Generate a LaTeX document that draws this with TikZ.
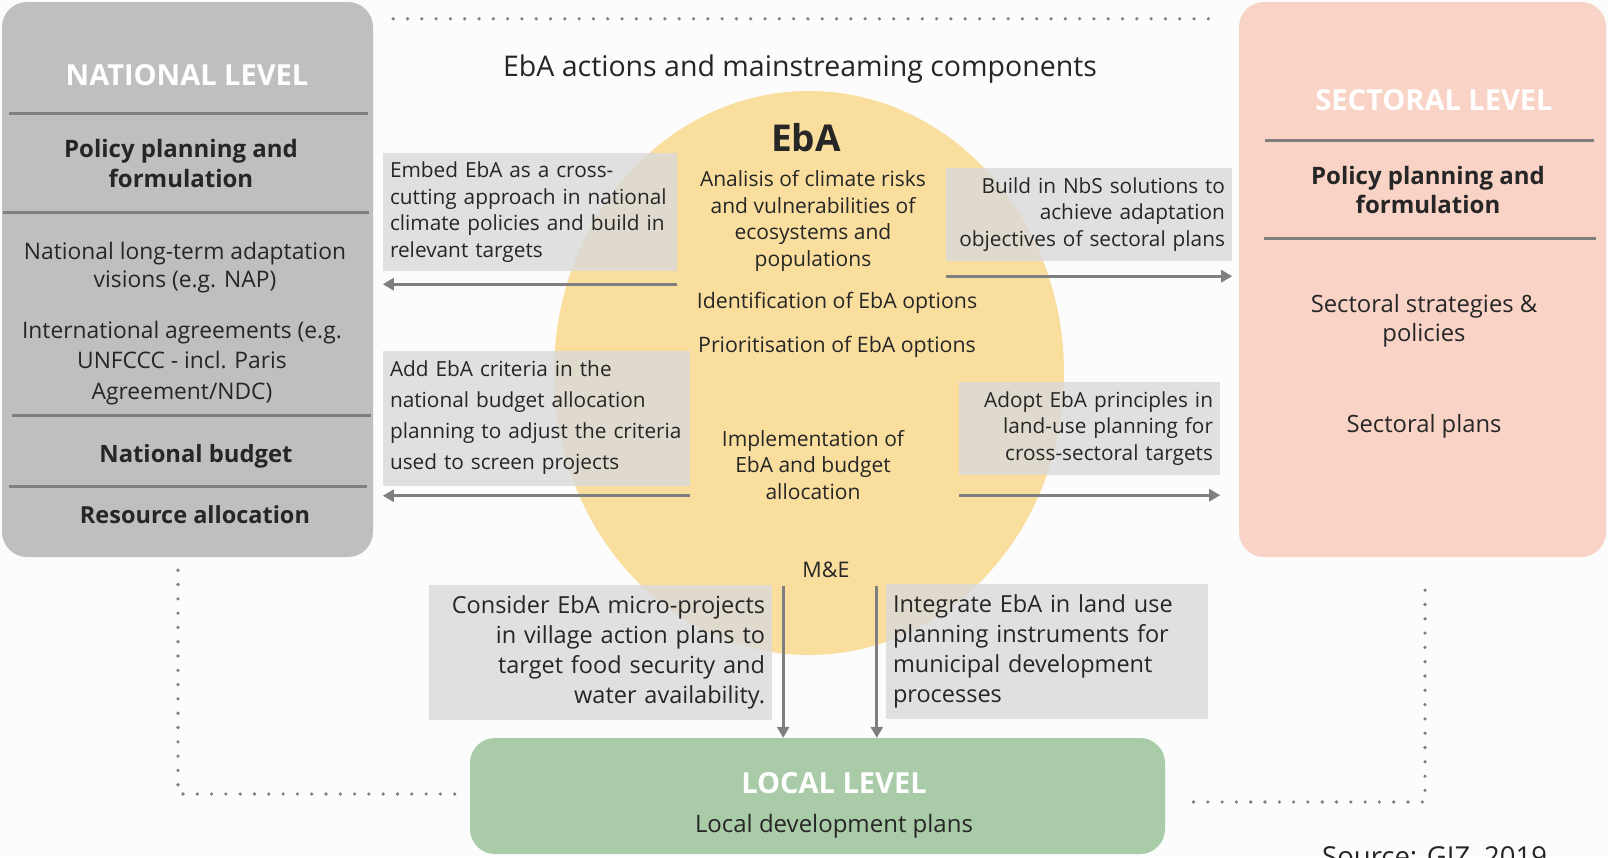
\documentclass[tikz,border=0pt]{standalone}
\usepackage{fontspec}
\setmainfont{Open Sans}
\usetikzlibrary{arrows.meta,positioning,shapes.geometric}

\definecolor{natgray}{HTML}{BFBFBF}
\definecolor{secpeach}{HTML}{F8D3C6}
\definecolor{locgreen}{HTML}{A9CBA8}
\definecolor{ebayellow}{HTML}{F9DE9E}
\definecolor{notegray}{HTML}{D9D9D9}
\definecolor{linegray}{HTML}{7F7F7F}
\definecolor{textdark}{HTML}{262626}

\tikzset{
  levelbox/.style={rounded corners=25pt, inner sep=0pt},
  note/.style={fill=notegray, fill opacity=0.8, text opacity=1, text=textdark,
    inner xsep=7pt, inner ysep=0pt, font=\fontsize{20.8}{26.5}\selectfont},
  txt/.style={text=textdark, align=center, inner sep=0pt},
  head/.style={text=white, inner sep=0pt, font=\fontsize{29}{32}\selectfont\bfseries},
  flow/.style={draw=linegray, line width=3.3pt, -{Triangle[length=11pt,width=12pt]}},
  sepline/.style={draw=linegray, line width=3pt},
  dots/.style={draw=linegray, line width=3.6pt, line cap=round, dash pattern=on 0pt off 14.3pt},
}

\begin{document}
\begin{tikzpicture}[x=1pt,y=-1pt]
\useasboundingbox (0,0) rectangle (1608,857);
\fill[white!99!black] (0,0) rectangle (1608,857);

% the three levels
\node[levelbox, fill=natgray, minimum width=371pt, minimum height=555pt] (national) at (187.5,279.5) {};
\node[levelbox, fill=secpeach, minimum width=367pt, minimum height=555pt] (sectoral) at (1422.5,279.5) {};
\node[levelbox, fill=locgreen, minimum width=695pt, minimum height=116pt] (local) at (817.5,796) {};

% EbA circle
\node[ellipse, fill=ebayellow, minimum width=510pt, minimum height=564pt, inner sep=0pt] (eba) at (809,373) {};

% national level
\node[head] (natTitle) at (187,75) {NATIONAL LEVEL};
\draw[sepline] (9,113) -- (368,113);
\node[txt, font=\fontsize{24}{30}\selectfont\bfseries] (natPolicy) at (181,163) {Policy planning and\\formulation};
\draw[sepline] (3,212) -- (369,212);
\node[txt, font=\fontsize{22.8}{28}\selectfont] (natVision) at (185,268) {National long-term adaptation\\visions (e.g. NAP)};
\node[txt, font=\fontsize{22.8}{30.5}\selectfont] (natAgree) at (182,363) {International agreements (e.g.\\UNFCCC - incl. Paris\\Agreement/NDC)};
\draw[sepline] (12,415) -- (371,415);
\node[txt, font=\fontsize{23.8}{30}\selectfont\bfseries] (natBudget) at (196,456) {National budget};
\draw[sepline] (9,486) -- (367,486);
\node[txt, font=\fontsize{23.5}{30}\selectfont\bfseries] (natRes) at (195,515) {Resource allocation};

% sectoral level
\node[head] (secTitle) at (1434,100) {SECTORAL LEVEL};
\draw[sepline] (1265,140) -- (1594,140);
\node[txt, font=\fontsize{24}{29}\selectfont\bfseries] (secPolicy) at (1428,190) {Policy planning and\\formulation};
\draw[sepline] (1264,238) -- (1596,238);
\node[txt, font=\fontsize{23.8}{29}\selectfont] (secStrat) at (1424,321) {Sectoral strategies \&\\policies};
\node[txt, font=\fontsize{23.8}{29}\selectfont] (secPlans) at (1424,426) {Sectoral plans};

% local level
\node[head] (locTitle) at (834,783) {LOCAL LEVEL};
\node[txt, font=\fontsize{24}{29}\selectfont] (locPlans) at (834,826) {Local development plans};

% components
\node[txt, font=\fontsize{28.5}{32}\selectfont] (title) at (800,69) {EbA actions and mainstreaming components};
\node[txt, font=\fontsize{37}{40}\selectfont\bfseries] (ebaTitle) at (806,138) {EbA};
\node[txt, font=\fontsize{21}{26.5}\selectfont] (analysis) at (813,221) {Analisis of climate risks\\and vulnerabilities of\\ecosystems and\\populations};
\node[txt, font=\fontsize{21.3}{26.5}\selectfont] (ident) at (837,303) {Identification of EbA options};
\node[txt, font=\fontsize{21.3}{26.5}\selectfont] (prior) at (837,347) {Prioritisation of EbA options};
\node[txt, font=\fontsize{21}{26.5}\selectfont] (implement) at (813,465) {Implementation of\\EbA and budget\\allocation};
\node[txt, font=\fontsize{21.5}{26.5}\selectfont] (me) at (826,570) {M\&E};

% actions
\node[note, minimum width=294pt, minimum height=118pt, text width=280pt, align=left] (embed) at (530,212)
  {Embed EbA as a cross-\\cutting approach in national\\climate policies and build in\\relevant targets};
\node[note, minimum width=286pt, minimum height=93pt, text width=272pt, align=right] (nbs) at (1089,214.5)
  {Build in NbS solutions to\\achieve adaptation\\objectives of sectoral plans};
\node[note, minimum width=307pt, minimum height=135pt, text width=293pt, align=left,
  font=\fontsize{20.8}{31}\selectfont] (criteria) at (536.5,418)
  {Add EbA criteria in the\\national budget allocation\\planning to adjust the criteria\\used to screen projects};
\node[note, minimum width=261pt, minimum height=93pt, text width=247pt, align=right] (adopt) at (1089.5,428.5)
  {Adopt EbA principles in\\land-use planning for\\cross-sectoral targets};
\node[note, minimum width=343pt, minimum height=135pt, text width=329pt, align=right,
  font=\fontsize{23.5}{30}\selectfont] (micro) at (600.5,652)
  {Consider EbA micro-projects\\in village action plans to\\target food security and\\water availability.};
\node[note, minimum width=322pt, minimum height=135pt, text width=308pt, align=left,
  font=\fontsize{23.5}{30}\selectfont] (integrate) at (1047,651)
  {Integrate EbA in land use\\planning instruments for\\municipal development\\processes};

% arrows
\draw[flow] ([yshift=-13pt]embed.south east) -- ([yshift=-13pt]embed.south west);
\draw[flow] ([yshift=-15pt]nbs.south west) -- ([yshift=-15pt]nbs.south east);
\draw[flow] ([yshift=-10pt]criteria.south east) -- ([yshift=-10pt]criteria.south west);
\draw[flow] ([yshift=-20pt]adopt.south west) -- ([yshift=-20pt]adopt.south east);
\coordinate (m1) at ([xshift=11pt,yshift=-2pt]micro.north east);
\coordinate (m2) at ([xshift=-9pt,yshift=-3pt]integrate.north west);
\draw[flow] (m1) -- (m1 |- local.north);
\draw[flow] (m2) -- (m2 |- local.north);

% dotted links
\draw[dots] ([xshift=20pt,yshift=-17pt]national.north east) -- ([xshift=-17pt,yshift=-17pt]sectoral.north west);
\draw[dots] ([xshift=-9.5pt,yshift=-13pt]national.south) |- ([xshift=-5pt,yshift=2pt]local.west);
\draw[dots] ([xshift=2.5pt,yshift=-33pt]sectoral.south) |- ([xshift=17pt,yshift=-6pt]local.east);

\node[txt, anchor=north west, font=\fontsize{27.5}{30}\selectfont] (source) at (1322,846) {Source: GIZ, 2019};
\end{tikzpicture}
\end{document}
